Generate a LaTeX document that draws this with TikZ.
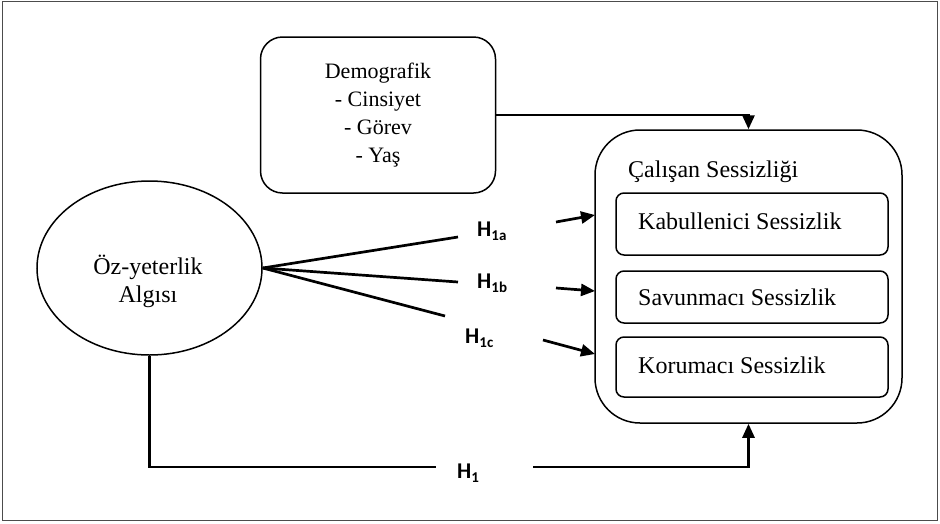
\documentclass[tikz,border=0pt]{standalone}
\usepackage{fontspec}
\setmainfont{Liberation Serif}
\newfontfamily\hfont{Carlito}
\usetikzlibrary{arrows.meta,shapes.geometric}
\begin{document}
\begin{tikzpicture}[x=1pt,y=-1pt,
  box/.style={draw,line width=1.5pt,rounded corners=#1,inner sep=0pt},
  conn/.style={line width=2.7pt},
  arr/.style={conn,-{Triangle[length=14pt,width=12pt]}},
  serif24/.style={font=\fontsize{24}{28}\selectfont},
  txt/.style={serif24,anchor=base west,inner sep=0pt},
  hlab/.style={font=\hfont\bfseries\fontsize{22.5}{24}\selectfont,inner sep=0pt,anchor=base west}]
\useasboundingbox (0,0) rectangle (940,523);
\draw[line width=1.5pt,black!70] (2.5,1.5) rectangle (937.5,520.5);

% Demografik box
\node[box=22pt,minimum width=235pt,minimum height=156pt,align=center,
      font=\fontsize{22}{28}\selectfont] (demo) at (378,115)
      {Demografik\\- Cinsiyet\\- Görev\\- Yaş};

% Ellipse
\node[draw,ellipse,line width=1.5pt,minimum width=225pt,minimum height=174pt,inner sep=0pt] (oz) at (149.5,268) {};
\node[align=center,serif24,inner sep=0pt] (ozt) at (148,281) {Öz-yeterlik\\Algısı};

% Outer box
\node[box=45pt,minimum width=307pt,minimum height=293pt] (outer) at (748.5,276.5) {};
\node[txt] (title) at (628,177) {Çalışan Sessizliği};

% Inner boxes
\node[box=8pt,minimum width=272pt,minimum height=62pt] (kab) at (752,224) {};
\node[txt] (kabt) at (638,229) {Kabullenici Sessizlik};
\node[box=8pt,minimum width=272pt,minimum height=52pt] (sav) at (752,297) {};
\node[txt] (savt) at (638,305) {Savunmacı Sessizlik};
\node[box=8pt,minimum width=272pt,minimum height=60pt] (kor) at (752,367) {};
\node[txt] (kort) at (638,373) {Korumacı Sessizlik};

% Labels
\node[hlab] (h1a) at (477,236) {H\raisebox{-4pt}{\fontsize{15}{15}\selectfont 1a}};
\node[hlab] (h1b) at (477,288) {H\raisebox{-4pt}{\fontsize{15}{15}\selectfont 1b}};
\node[hlab] (h1c) at (465,343) {H\raisebox{-4pt}{\fontsize{15}{15}\selectfont 1c}};
\node[hlab] (h1) at (457,478) {H\raisebox{-4pt}{\fontsize{15}{15}\selectfont 1}};

% Coordinates
\coordinate (e1a) at (458,237);
\coordinate (e1b) at (458,282);
\coordinate (e1c) at (445,316);
\coordinate (s1a) at (556,222);
\coordinate (t1a) at (595,215);
\coordinate (s1b) at (556,288);
\coordinate (t1b) at (595,291);
\coordinate (s1c) at (543,340);
\coordinate (t1c) at (595,354);
\coordinate (h1l) at (436,467);
\coordinate (h1r) at (533,467);

% Connectors
\draw[arr] (demo.east) -| (outer.north);
\draw[conn] (oz.east) -- (e1a);
\draw[conn] (oz.east) -- (e1b);
\draw[conn] (oz.east) -- (e1c);
\draw[arr] (s1a) -- (t1a);
\draw[arr] (s1b) -- (t1b);
\draw[arr] (s1c) -- (t1c);
\draw[conn] (oz.south) |- (h1l);
\draw[arr] (h1r) -| (outer.south);
\end{tikzpicture}
\end{document}
